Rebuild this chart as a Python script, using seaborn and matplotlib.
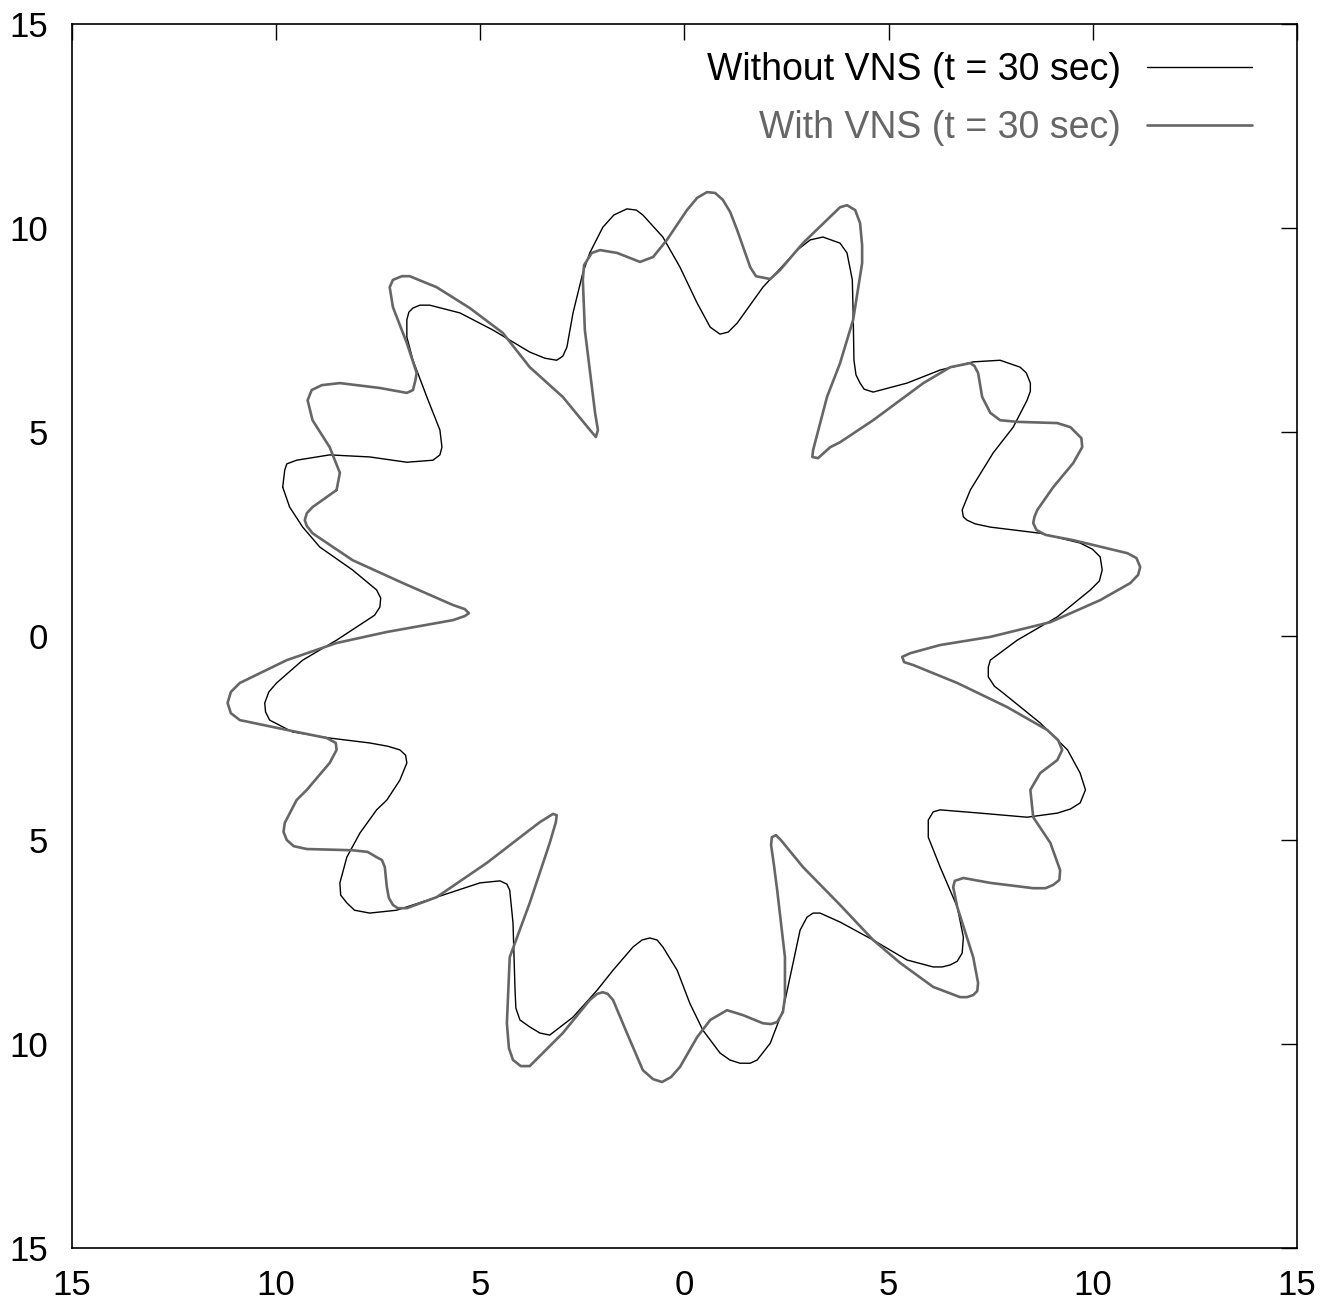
import numpy as np
import pandas as pd
import seaborn as sns
import matplotlib
matplotlib.use("Agg")
import matplotlib.pyplot as plt
from matplotlib.ticker import FuncFormatter

# Boundary of the region without VNS: closed curve of (x, y) points in mm
without_pts = [
    (-9.84, 3.65), (-9.79, 4.07), (-9.74, 4.22), (-9.50, 4.31), (-8.69, 4.44),
    (-7.71, 4.39), (-6.80, 4.26), (-6.16, 4.31), (-5.99, 4.44), (-5.94, 4.63),
    (-5.99, 5.05), (-6.31, 5.86), (-6.65, 6.76), (-6.80, 7.33), (-6.80, 7.75),
    (-6.75, 7.94), (-6.65, 8.04), (-6.48, 8.11), (-6.24, 8.11), (-5.50, 7.92),
    (-4.69, 7.50), (-3.79, 6.96), (-3.42, 6.81), (-3.13, 6.76), (-2.98, 6.86),
    (-2.88, 7.08), (-2.73, 7.92), (-2.49, 8.90), (-2.32, 9.39), (-2.00, 10.02),
    (-1.73, 10.32), (-1.41, 10.47), (-1.18, 10.44), (-1.02, 10.32), (-0.53, 9.78),
    (-0.11, 9.04), (0.31, 8.16), (0.63, 7.57), (0.87, 7.40), (1.07, 7.45),
    (1.29, 7.67), (1.92, 8.55), (2.76, 9.46), (3.08, 9.71), (3.39, 9.78),
    (3.81, 9.63), (3.98, 9.39), (4.11, 8.73), (4.13, 7.92), (4.15, 6.76),
    (4.20, 6.40), (4.30, 6.20), (4.40, 6.05), (4.62, 5.98), (5.45, 6.20),
    (6.26, 6.52), (7.07, 6.72), (7.73, 6.76), (8.22, 6.59), (8.37, 6.45),
    (8.47, 6.20), (8.47, 6.00), (8.39, 5.78), (8.05, 5.12), (7.56, 4.49),
    (7.00, 3.58), (6.80, 3.09), (6.83, 2.92), (6.92, 2.84), (7.12, 2.75),
    (7.49, 2.67), (8.71, 2.52), (9.69, 2.28), (9.99, 2.13), (10.18, 1.94),
    (10.23, 1.62), (10.16, 1.35), (9.94, 1.13), (9.13, 0.47), (8.15, -0.10),
    (7.49, -0.59), (7.44, -0.76), (7.44, -1.00), (7.59, -1.23), (7.81, -1.40),
    (8.71, -2.13), (9.38, -2.79), (9.69, -3.36), (9.82, -3.77), (9.69, -4.09),
    (9.45, -4.24), (9.13, -4.34), (8.39, -4.44), (7.24, -4.34), (6.26, -4.26),
    (6.09, -4.31), (5.97, -4.51), (5.97, -4.93), (6.26, -5.66), (6.68, -6.64),
    (6.83, -7.38), (6.80, -7.77), (6.68, -7.97), (6.51, -8.06), (6.31, -8.11),
    (6.09, -8.11), (5.45, -7.94), (4.62, -7.45), (3.81, -7.01), (3.32, -6.79),
    (3.15, -6.79), (3.00, -6.89), (2.83, -7.21), (2.66, -8.01), (2.41, -9.17),
    (2.10, -9.98), (1.78, -10.39), (1.61, -10.47), (1.36, -10.47), (1.11, -10.39),
    (0.87, -10.22), (0.45, -9.66), (0.13, -9.00), (-0.18, -8.19), (-0.53, -7.62),
    (-0.67, -7.45), (-0.85, -7.40), (-1.04, -7.45), (-1.26, -7.62), (-1.75, -8.19),
    (-2.14, -8.68), (-2.73, -9.34), (-3.30, -9.78), (-3.54, -9.73), (-3.79, -9.58),
    (-4.03, -9.41), (-4.13, -9.12), (-4.15, -8.68), (-4.20, -7.03), (-4.28, -6.23),
    (-4.35, -6.08), (-4.52, -6.00), (-5.01, -6.05), (-6.07, -6.40), (-7.05, -6.72),
    (-7.71, -6.79), (-8.08, -6.72), (-8.27, -6.54), (-8.42, -6.35), (-8.44, -6.05),
    (-8.27, -5.42), (-7.95, -4.83), (-7.54, -4.26), (-7.29, -4.02), (-6.97, -3.53),
    (-6.80, -3.11), (-6.83, -2.92), (-6.97, -2.79), (-7.27, -2.70), (-7.71, -2.62),
    (-8.69, -2.50), (-9.60, -2.35), (-10.16, -2.06), (-10.26, -1.86), (-10.28, -1.64),
    (-10.18, -1.37), (-9.99, -1.15), (-9.35, -0.59), (-8.52, -0.10), (-7.88, 0.32),
    (-7.59, 0.51), (-7.46, 0.71), (-7.44, 0.93), (-7.54, 1.13), (-8.13, 1.62),
    (-8.93, 2.18), (-9.35, 2.67), (-9.67, 3.16), (-9.84, 3.65),
]

# Boundary of the region with VNS: closed curve of (x, y) points in mm
with_pts = [
    (-8.52, 3.58), (-8.44, 4.00), (-8.69, 4.63), (-9.11, 5.29), (-9.23, 5.78),
    (-9.13, 6.03), (-8.88, 6.15), (-8.44, 6.20), (-7.46, 6.08), (-6.80, 5.96),
    (-6.65, 6.03), (-6.59, 6.27), (-6.56, 6.45), (-6.80, 7.18), (-7.14, 8.06),
    (-7.22, 8.55), (-7.14, 8.73), (-6.92, 8.82), (-6.73, 8.82), (-6.07, 8.55),
    (-5.26, 8.04), (-4.45, 7.43), (-3.79, 6.59), (-2.98, 5.86), (-2.29, 5.02),
    (-2.17, 4.88), (-2.12, 5.05), (-2.19, 5.47), (-2.44, 7.50), (-2.49, 8.73),
    (-2.46, 9.09), (-2.27, 9.39), (-2.07, 9.46), (-1.65, 9.39), (-1.09, 9.17),
    (-0.77, 9.29), (-0.43, 9.71), (0.06, 10.44), (0.31, 10.74), (0.55, 10.88),
    (0.75, 10.86), (0.94, 10.69), (1.12, 10.39), (1.29, 9.95), (1.61, 9.04),
    (1.75, 8.82), (2.10, 8.75), (2.34, 8.97), (2.90, 9.63), (3.81, 10.51),
    (3.98, 10.56), (4.18, 10.44), (4.30, 10.12), (4.35, 9.58), (4.35, 9.14),
    (4.13, 7.75), (3.81, 6.69), (3.49, 5.86), (3.15, 4.56), (3.13, 4.39),
    (3.27, 4.36), (3.57, 4.63), (3.81, 4.75), (4.62, 5.29), (5.85, 6.20),
    (6.51, 6.59), (7.00, 6.69), (7.10, 6.62), (7.19, 6.45), (7.29, 5.86),
    (7.49, 5.47), (7.73, 5.29), (8.15, 5.25), (9.13, 5.22), (9.45, 5.12),
    (9.72, 4.85), (9.74, 4.63), (9.52, 4.24), (9.03, 3.65), (8.64, 3.09),
    (8.57, 2.92), (8.54, 2.77), (8.62, 2.60), (8.84, 2.48), (9.52, 2.35),
    (10.85, 2.03), (11.07, 1.91), (11.16, 1.69), (11.11, 1.50), (10.92, 1.30),
    (10.18, 0.88), (8.96, 0.34), (7.49, -0.02), (6.26, -0.22), (5.53, -0.42),
    (5.33, -0.51), (5.38, -0.64), (5.60, -0.71), (6.68, -1.15), (7.90, -1.74),
    (8.88, -2.30), (9.15, -2.55), (9.25, -2.79), (9.13, -3.04), (8.71, -3.36),
    (8.47, -3.77), (8.54, -4.44), (8.96, -5.07), (9.20, -5.74), (9.18, -5.98),
    (9.03, -6.10), (8.84, -6.18), (8.54, -6.18), (7.49, -6.05), (6.83, -5.93),
    (6.62, -6.00), (6.58, -6.15), (6.68, -6.64), (7.07, -7.87), (7.19, -8.50),
    (7.17, -8.70), (7.07, -8.80), (6.92, -8.85), (6.75, -8.85), (6.09, -8.60),
    (5.28, -8.01), (4.62, -7.45), (3.81, -6.59), (2.90, -5.66), (2.36, -5.00),
    (2.24, -4.88), (2.14, -4.93), (2.12, -5.12), (2.19, -5.61), (2.27, -6.23),
    (2.46, -7.87), (2.46, -8.85), (2.41, -9.22), (2.27, -9.46), (2.12, -9.51),
    (1.92, -9.49), (1.43, -9.29), (1.04, -9.17), (0.63, -9.41), (0.31, -9.83),
    (-0.11, -10.56), (-0.33, -10.81), (-0.55, -10.93), (-0.77, -10.86), (-1.02, -10.64),
    (-1.41, -9.73), (-1.75, -8.92), (-1.88, -8.77), (-2.00, -8.73), (-2.14, -8.77),
    (-2.32, -8.92), (-2.98, -9.73), (-3.79, -10.54), (-4.01, -10.54), (-4.20, -10.39),
    (-4.30, -10.10), (-4.35, -9.49), (-4.28, -7.87), (-3.79, -6.54), (-3.30, -5.07),
    (-3.15, -4.56), (-3.13, -4.39), (-3.22, -4.36), (-3.54, -4.56), (-3.79, -4.75),
    (-4.84, -5.56), (-6.07, -6.40), (-6.80, -6.67), (-7.02, -6.67), (-7.14, -6.59),
    (-7.24, -6.42), (-7.29, -6.15), (-7.34, -5.66), (-7.41, -5.49), (-7.54, -5.42),
    (-7.76, -5.29), (-8.13, -5.25), (-9.25, -5.22), (-9.57, -5.15), (-9.74, -5.00),
    (-9.82, -4.80), (-9.79, -4.58), (-9.50, -4.02), (-9.25, -3.77), (-8.69, -3.11),
    (-8.52, -2.79), (-8.54, -2.62), (-8.76, -2.50), (-9.74, -2.30), (-10.89, -2.06),
    (-11.11, -1.89), (-11.19, -1.64), (-11.11, -1.37), (-10.89, -1.15), (-9.74, -0.59),
    (-8.52, -0.17), (-7.29, 0.10), (-5.67, 0.39), (-5.38, 0.49), (-5.28, 0.56),
    (-5.38, 0.66), (-5.67, 0.76), (-6.90, 1.30), (-8.13, 1.86), (-9.11, 2.52),
    (-9.25, 2.70), (-9.30, 2.84), (-9.25, 3.01), (-9.11, 3.16), (-8.52, 3.58),
]

series_labels = ["Without VNS (t = 30 sec)", "With VNS (t = 30 sec)"]
series_colors = ["black", "#666666"]
series_widths = [1.0, 1.9]
axis_ticks = [-15, -10, -5, 0, 5, 10, 15]

sns.set_theme(style="white")
plt.rcParams["font.family"] = ["Liberation Sans", "DejaVu Sans"]
plt.rcParams["lines.solid_joinstyle"] = "round"
plt.rcParams["lines.solid_capstyle"] = "round"

fig = plt.figure(figsize=(13.36, 13.07), dpi=100)
ax = fig.add_axes([0.0539, 0.0451, 0.9169, 0.9365])

curves = [without_pts, with_pts]
for pts, lab, col, lw in zip(curves, series_labels, series_colors, series_widths):
    xs, ys = zip(*pts)
    df = pd.DataFrame({"x": xs, "y": ys})
    sns.lineplot(data=df, x="x", y="y", sort=False, estimator=None,
                 color=col, linewidth=lw, label=lab, ax=ax)

ax.set_xlim(-15, 15)
ax.set_ylim(-15, 15)
ax.set_xticks(axis_ticks)
ax.set_yticks(axis_ticks)
abs_fmt = FuncFormatter(lambda v, pos: f"{abs(v):g}")
ax.xaxis.set_major_formatter(abs_fmt)
ax.yaxis.set_major_formatter(abs_fmt)
ax.set_xlabel("")
ax.set_ylabel("")
ax.tick_params(axis="both", which="major", direction="in", length=11.5,
               width=1.0, color="black", labelsize=25, labelcolor="black",
               top=True, right=True)
ax.tick_params(axis="x", pad=15)
ax.tick_params(axis="y", pad=17)
for s in ax.spines.values():
    s.set_visible(True)
    s.set_color("black")
    s.set_linewidth(1.2)

leg = ax.legend(loc="upper right", bbox_to_anchor=(0.9755, 0.9894),
                borderaxespad=0.0, frameon=False, markerfirst=False,
                fontsize=27, handlelength=2.8, handletextpad=0.7,
                labelspacing=0.58, labelcolor="linecolor")
for line, lw in zip(leg.get_lines(), series_widths):
    line.set_linewidth(lw)

fig.savefig("out.png", dpi=100, facecolor="white")
